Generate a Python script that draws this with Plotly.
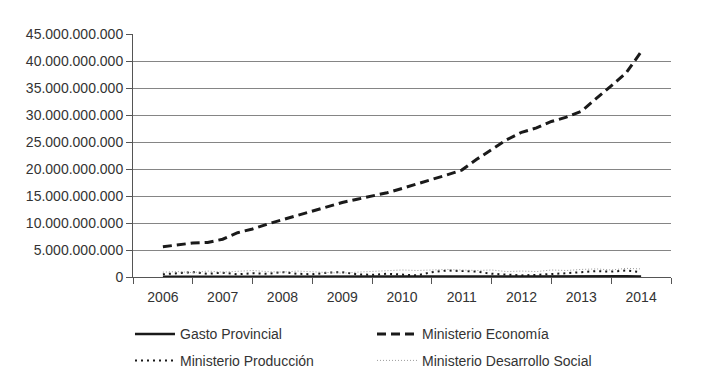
import plotly.graph_objects as go

anios = [2006, 2007, 2008, 2009, 2010, 2011, 2012, 2013, 2014]

periodo = [2006.0, 2006.25, 2006.5, 2006.75, 2007.0, 2007.25, 2007.5, 2007.75,
           2008.0, 2008.25, 2008.5, 2008.75, 2009.0, 2009.25, 2009.5, 2009.75,
           2010.0, 2010.25, 2010.5, 2010.75, 2011.0, 2011.25, 2011.5, 2011.75,
           2012.0, 2012.25, 2012.5, 2012.75, 2013.0, 2013.25, 2013.5, 2013.75,
           2014.0]

# values in miles de millones (x 1e9)
economia = [5.6, 6.0, 6.3, 6.4, 7.0, 8.2, 8.9, 9.8, 10.6, 11.4, 12.2, 13.0,
            13.8, 14.4, 15.0, 15.6, 16.4, 17.2, 18.1, 18.9, 19.8, 21.8, 23.6, 25.4,
            26.8, 27.6, 28.8, 29.6, 30.7, 33.0, 35.4, 37.8, 41.7]
produccion = [0.5, 0.7, 0.9, 0.6, 0.8, 0.5, 0.7, 0.6, 0.9, 0.6, 0.5, 0.8,
              0.9, 0.5, 0.4, 0.6, 0.4, 0.3, 0.9, 1.2, 1.1, 1.0, 0.6, 0.4,
              0.3, 0.4, 0.5, 0.7, 0.9, 1.1, 1.0, 1.2, 0.9]
desarrollo = [0.9, 1.0, 0.8, 1.1, 0.9, 1.0, 1.2, 1.0, 0.9, 1.1, 1.0, 0.8,
              0.7, 0.9, 1.0, 1.1, 1.3, 1.2, 1.3, 1.4, 1.3, 1.2, 1.3, 1.0,
              1.1, 1.0, 1.3, 1.2, 1.4, 1.5, 1.3, 1.6, 1.5]
gasto = [0.05, 0.06, 0.08, 0.06, 0.08, 0.08, 0.1, 0.08, 0.08, 0.1, 0.08, 0.1,
         0.1, 0.1, 0.08, 0.1, 0.08, 0.08, 0.1, 0.1, 0.1, 0.1, 0.08, 0.08,
         0.08, 0.1, 0.1, 0.1, 0.1, 0.12, 0.1, 0.12, 0.1]

E = 1e9
font = "Liberation Sans, Arial, sans-serif"
txt = "#333333"

fig = go.Figure()
fig.add_trace(go.Scatter(x=periodo, y=[v * E for v in gasto], mode="lines",
                         name="Gasto Provincial", legend="legend",
                         line=dict(color="#1a1a1a", width=2.5)))
fig.add_trace(go.Scatter(x=periodo, y=[v * E for v in economia], mode="lines",
                         name="Ministerio Economía", legend="legend",
                         line=dict(color="#1a1a1a", width=3, dash="9px,5px")))
fig.add_trace(go.Scatter(x=periodo, y=[v * E for v in produccion], mode="lines",
                         name="Ministerio Producción", legend="legend2",
                         line=dict(color="#1a1a1a", width=2, dash="2px,4px")))
fig.add_trace(go.Scatter(x=periodo, y=[v * E for v in desarrollo], mode="lines",
                         name="Ministerio Desarrollo Social", legend="legend2",
                         line=dict(color="#9a9a9a", width=1, dash="1px,2px")))

leg_common = dict(orientation="h", xanchor="left", yanchor="top",
                  entrywidth=187, entrywidthmode="pixels", itemwidth=40,
                  font=dict(family=font, size=14, color=txt),
                  traceorder="normal", bgcolor="rgba(0,0,0,0)")

fig.update_layout(
    width=694, height=378,
    margin=dict(l=125, r=31, t=26, b=109, autoexpand=False),
    paper_bgcolor="white", plot_bgcolor="white",
    separators=",.",
    font=dict(family=font, size=14, color=txt),
    showlegend=True,
    legend=dict(x=-0.0056, y=-0.170, **leg_common),
    legend2=dict(x=-0.0056, y=-0.279, **leg_common),
    xaxis=dict(range=[2005.5, 2014.5], tickmode="array", tickvals=anios,
               ticktext=[str(a) for a in anios], ticks="", showgrid=False,
               showline=True, linecolor="#555555", linewidth=1, zeroline=False,
               ticklabelstandoff=7, automargin=False,
               tickfont=dict(family=font, size=14, color=txt),
               minor=dict(ticks="outside", tick0=2005.5, dtick=1, ticklen=6,
                          tickcolor="#555555", showgrid=False)),
    yaxis=dict(range=[0, 45e9], tickmode="array",
               tickvals=[i * 5e9 for i in range(10)], tickformat=",.0f",
               ticks="outside", ticklen=6, tickcolor="#555555",
               showgrid=True, gridcolor="#858585", gridwidth=1,
               showline=True, linecolor="#555555", linewidth=1, zeroline=False,
               automargin=False,
               tickfont=dict(family=font, size=14, color=txt)),
)

fig.write_html("out.html")
